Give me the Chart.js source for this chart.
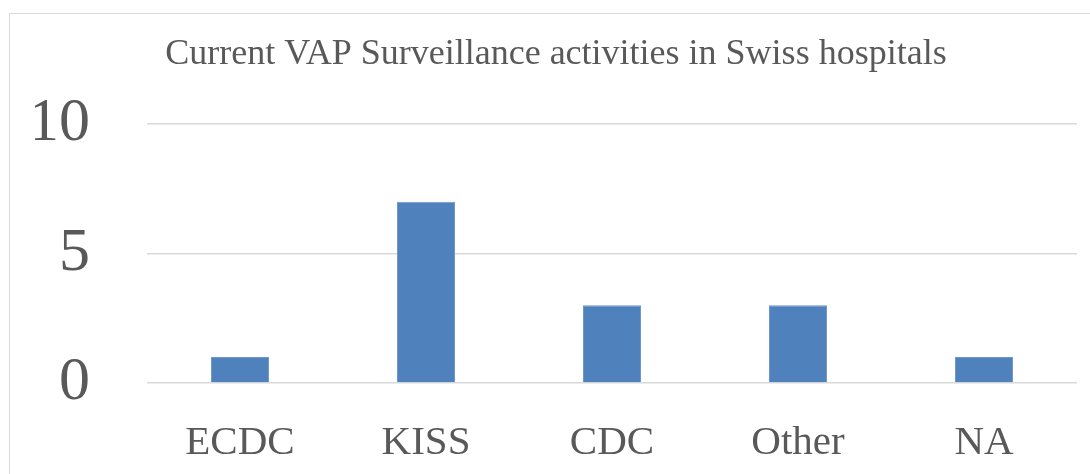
<!DOCTYPE html>
<html>
<head>
<meta charset="utf-8">
<script src="https://cdn.jsdelivr.net/npm/chart.js@4"></script>
<style>
  html, body { margin: 0; padding: 0; background: #fff; overflow: hidden; }
  #rahmen { position: absolute; left: 9px; top: 13px; width: 1100px; height: 480px; border: 1.5px solid #d9d9d9; }
  #wrap { position: absolute; left: 0; top: 0; width: 1090px; height: 474px; }
</style>
</head>
<body>
<div id="rahmen"></div>
<div id="wrap"><canvas id="vapGraf"></canvas></div>
<script>
// Kategorien und Werte
const kategorien = ['ECDC', 'KISS', 'CDC', 'Other', 'NA'];
const werte = [1, 7, 3, 3, 1];
const yTicks = [0, 5, 10];
const titel = 'Current VAP Surveillance activities in Swiss hospitals';

const grau = '#595959';
const schrift = '"Liberation Serif", "Times New Roman", serif';

function lagGraf() {
  const ctx = document.getElementById('vapGraf').getContext('2d');
  new Chart(ctx, {
    type: 'bar',
    data: {
      labels: kategorien,
      datasets: [{
        data: werte,
        backgroundColor: '#4f81bd',
        borderColor: '#6f98cc',
        borderWidth: 1,
        categoryPercentage: 1,
        barPercentage: 0.312
      }]
    },
    options: {
      responsive: true,
      maintainAspectRatio: false,
      animation: false,
      layout: { padding: { left: 35, right: 13, top: 0, bottom: 0 } },
      plugins: {
        legend: { display: false },
        tooltip: { enabled: false },
        title: {
          display: true,
          text: titel,
          color: grau,
          font: { family: schrift, size: 36, weight: 'normal' },
          padding: { top: 33, bottom: 48 }
        }
      },
      scales: {
        x: {
          grid: { display: false, drawTicks: false },
          border: { display: false },
          ticks: { color: grau, font: { family: schrift, size: 41 }, padding: 36, maxRotation: 0 },
          afterFit: s => { s.height = 91; }
        },
        y: {
          min: 0,
          max: 10,
          afterBuildTicks: s => { s.ticks = yTicks.map(v => ({ value: v })); },
          grid: { color: '#d9d9d9', lineWidth: 1.5, drawTicks: false },
          border: { display: false },
          // lineHeight 1, sonst schiebt das Label "0" die Grundlinie nach oben
          ticks: { color: grau, font: { family: schrift, size: 62, lineHeight: 1 }, padding: 57 },
          afterFit: s => { s.width = 112; }
        }
      }
    }
  });
}

window.onload = function() {
  lagGraf();
};
</script>
</body>
</html>
